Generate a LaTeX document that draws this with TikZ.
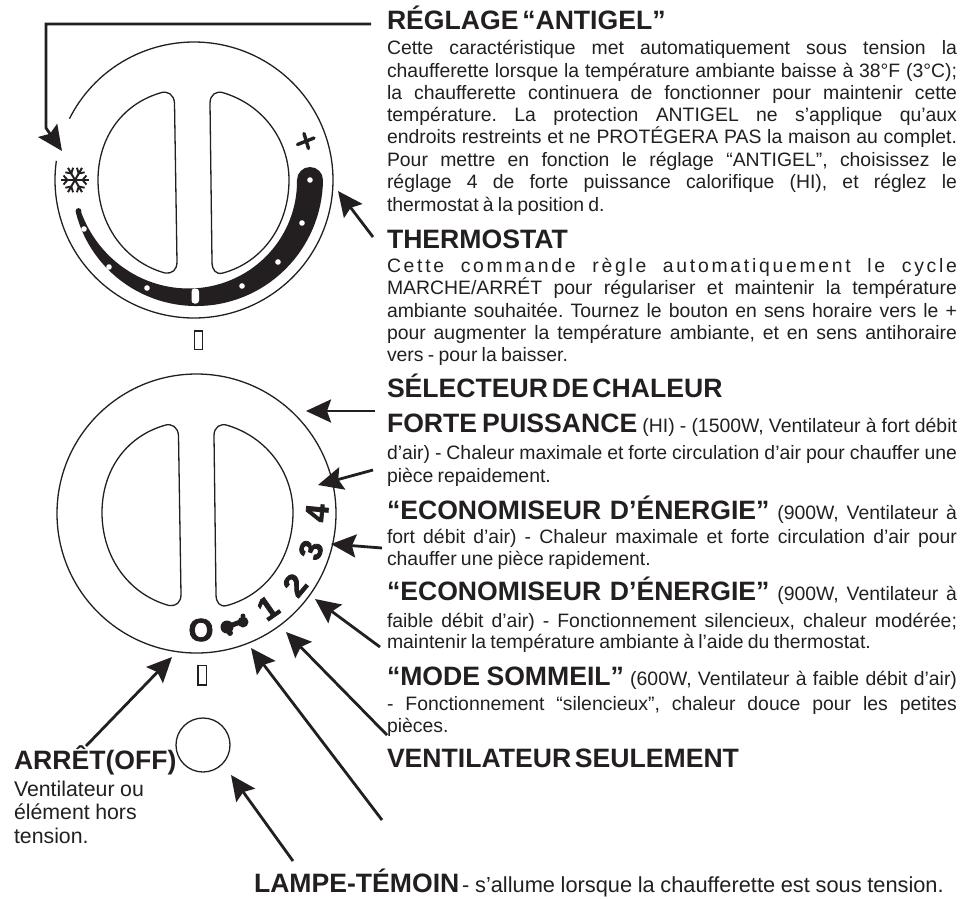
\documentclass[tikz,border=0pt]{standalone}
\usepackage{fontspec}
\setmainfont{Liberation Sans}
\newfontfamily\digitf[FakeBold=2.5]{Liberation Sans Bold}
\usetikzlibrary{arrows.meta}
\definecolor{ink}{HTML}{231F20}
\frenchspacing
\newcommand{\bodyf}{\fontsize{19.4}{22}\selectfont\spaceskip=.22em plus 5em minus .1em\xspaceskip=\spaceskip\relax}
\newcommand{\largef}[1]{\fontsize{#1}{24}\selectfont\spaceskip=.26em plus 5em minus .1em\xspaceskip=\spaceskip\relax}
\newcommand{\headf}{\fontsize{26.6}{28}\selectfont\bfseries\spaceskip=.14em plus 5em minus .05em\xspaceskip=\spaceskip\relax}
\newcommand{\jline}[3]{\node[textline] (#1) at (387,#2) {\bodyf\hbox to 570pt{#3}};}
\newcommand{\pline}[4]{\node[textline] (#1) at (#2,#3) {\bodyf #4};}
\newcommand{\hdline}[4]{\node[textline] (#1) at (#2,#3) {\headf #4};}
\newcommand{\hd}[1]{{\headf #1}}
\newcommand{\dwindows}{%
  \draw[dialline] (174.5,103) -- (177,262) .. controls (177,270) and (172,274) .. (165,273)
    .. controls (125,262) and (98,225) .. (98,180) .. controls (98,140) and (120,105) .. (160,93)
    .. controls (168,90) and (174,95) .. (174.5,103) -- cycle;
  \draw[dialline] (210,103) -- (212,262) .. controls (212,270) and (216,275) .. (223,273)
    .. controls (263,262) and (289,225) .. (289,180) .. controls (289,140) and (263,105) .. (224,93)
    .. controls (216,90) and (210,95) .. (210,103) -- cycle;
}
\tikzset{
  declare function={mm(\t)=116+4*\t*\t; ww(\t)=2.5+10.5*(1-0.4*\t-0.6*\t*\t);},
  textline/.style={anchor=base west,inner sep=0pt,outer sep=0pt,text=ink},
  dialline/.style={draw=ink,line width=1.3pt},
  pointer/.style={draw=ink,line width=2.8pt,-{Stealth[length=25pt,width=23pt,inset=4pt,fill=ink]}},
  digit/.style={inner sep=0pt,text=ink,font=\fontsize{32}{32}\digitf},
  smallmark/.style={draw=ink,line width=1.1pt},
  whitedot/.style={fill=white,draw=none},
}
\begin{document}
\begin{tikzpicture}[x=1pt,y=-1pt]
\useasboundingbox (0,0) rectangle (964,898);
% upper dial
\draw[dialline] plot[domain=153.6:-188,samples=140,smooth] ({194+139*cos(\x)},{180-138*sin(\x)});
\dwindows
\fill[ink] plot[domain=0:1,samples=60] ({194+(mm(\x)+ww(\x))*cos(165*\x)},{180+(mm(\x)+ww(\x))*sin(165*\x)})
  -- plot[domain=1:0,samples=60] ({194+(mm(\x)-ww(\x))*cos(165*\x)},{180+(mm(\x)-ww(\x))*sin(165*\x)}) -- cycle;
\fill[ink] (310,180) circle[radius=13pt];
\fill[ink] (78.5,211) circle[radius=2.9pt];
\foreach \p in {(310,180),(302,223),(278,262),(242,286),(147,288),(109,267),(84,229)}
  \fill[whitedot] \p circle[radius=2.8pt];
\fill[whitedot,rounded corners=3pt] (191.5,288.5) rectangle (199,303.5);
% plus sign
\draw[ink,line width=3.4pt,line cap=round] (297.5,144.5) -- (314,138);
\draw[ink,line width=3.4pt,line cap=round] (304,133.5) -- (308.5,148.5);
% snowflake
\foreach \a in {0,60,120,180,240,300}{
  \begin{scope}[shift={(75,180)},rotate=\a]
    \draw[ink,line width=2pt] (0,0) -- (14,0);
    \draw[ink,line width=1.9pt] (11.5,-4.5) -- (7.5,0) -- (11.5,4.5);
  \end{scope}
}
\draw[smallmark] (194.5,331) rectangle (202.5,349.5);
% lower dial
\node[draw=ink,line width=1.3pt,circle,minimum size=279pt,inner sep=0pt] (dial) at (196.5,513.5) {};
\begin{scope}[shift={(4,332.5)}]
\dwindows
\end{scope}
\node[digit,rotate=85] (d4) at (317,513) {4};
\node[digit,rotate=72] (d3) at (311,550) {3};
\node[digit,rotate=50] (d2) at (295,585) {2};
\node[digit,rotate=35] (d1) at (268,608) {1};
\node[digit] (d0) at (201,630) {O};
% fan glyph
\fill[ink] (227,627) circle[radius=6.5pt];
\fill[ink] (243,622) circle[radius=5.5pt];
\fill[ink] (230,633) circle[radius=3pt];
\fill[ink] (243,616) circle[radius=2.5pt];
\draw[ink,line width=5pt] (227,627) -- (243,621);
\draw[smallmark] (198,665.5) rectangle (206.5,685);
\node[draw=ink,line width=1.3pt,circle,minimum size=54pt,inner sep=0pt] (lamp) at (203,745) {};
% arrow ends
\coordinate (a1s) at (371,24);
\coordinate (a1t) at (62,151);
\coordinate (a2s) at (373,237);
\coordinate (a2t) at (338,191);
\coordinate (a3s) at (375,411);
\coordinate (a3t) at (306,411);
\coordinate (a4s) at (373,470);
\coordinate (a4t) at (318,485);
\coordinate (a5s) at (382,548);
\coordinate (a5t) at (331,544);
\coordinate (a6s) at (380,647);
\coordinate (a6t) at (315,599);
\coordinate (a7s) at (387,735);
\coordinate (a7t) at (286,632);
\coordinate (a8s) at (382,820);
\coordinate (a8t) at (251,648);
\coordinate (a9s) at (86,746);
\coordinate (a9t) at (172,657);
\coordinate (a10s) at (293,861);
\coordinate (a10t) at (231,775);
\draw[pointer] (a1s) -- (46,24) -- (46,128) -- (a1t);
\foreach \n in {2,...,10} \draw[pointer] (a\n s) -- (a\n t);
% right-hand text
\hdline{h1}{387}{29.5}{RÉGLAGE “ANTIGEL”}
\jline{b1}{54}{Cette caractéristique met automatiquement sous tension la}
\jline{b2}{77}{chaufferette lorsque la température ambiante baisse à 38°F (3°C);}
\jline{b3}{99}{la chaufferette continuera de fonctionner pour maintenir cette}
\jline{b4}{121}{température. La protection ANTIGEL ne s’applique qu’aux}
\jline{b5}{143.5}{endroits restreints et ne PROTÉGERA PAS la maison au complet.}
\jline{b6}{166}{Pour mettre en fonction le réglage “ANTIGEL”, choisissez le}
\jline{b7}{188}{réglage 4 de forte puissance calorifique (HI), et réglez le}
\pline{b8}{387}{211}{thermostat à la position d.}
\hdline{h2}{387}{248}{THERMOSTAT}
\jline{c1}{272}{\addfontfeature{LetterSpace=14}Cette commande règle automatiquement le cycle}
\jline{c2}{294.5}{MARCHE/ARRÉT pour régulariser et maintenir la température}
\jline{c3}{317}{ambiante souhaitée. Tournez le bouton en sens horaire vers le +}
\jline{c4}{339}{pour augmenter la température ambiante, et en sens antihoraire}
\pline{c5}{387}{361}{vers - pour la baisser.}
\hdline{h3}{387}{397}{SÉLECTEUR DE CHALEUR}
\jline{e1}{432}{\hd{FORTE PUISSANCE} (HI) - (1500W, Ventilateur à fort débit}
\jline{e2}{459}{d’air) - Chaleur maximale et forte circulation d’air pour chauffer une}
\pline{e3}{387}{482}{pièce repaidement.}
\jline{f1}{519}{\hd{“ECONOMISEUR D’ÉNERGIE”} (900W, Ventilateur à}
\jline{f2}{543}{fort débit d’air) - Chaleur maximale et forte circulation d’air pour}
\pline{f3}{387}{565}{chauffer une pièce rapidement.}
\jline{g1}{600}{\hd{“ECONOMISEUR D’ÉNERGIE”} (900W, Ventilateur à}
\jline{g2}{627}{faible débit d’air) - Fonctionnement silencieux, chaleur modérée;}
\pline{g3}{387}{648}{maintenir la température ambiante à l’aide du thermostat.}
\jline{k1}{685}{\hd{“MODE SOMMEIL”} (600W, Ventilateur à faible débit d’air)}
\jline{k2}{710}{- Fonctionnement “silencieux”, chaleur douce pour les petites}
\pline{k3}{387}{732}{pièces.}
\hdline{h4}{387}{767}{VENTILATEUR SEULEMENT}
% lower-left text
\hdline{h5}{14}{769}{ARRÊT(OFF)}
\node[textline] (v1) at (14,796) {\largef{21.3}Ventilateur ou};
\node[textline] (v2) at (14,819) {\largef{21.3}élément hors};
\node[textline] (v3) at (14,843) {\largef{21.3}tension.};
\node[textline] (lampe) at (254,892.5) {\hd{LAMPE-TÉMOIN} \largef{21.8}- s’allume lorsque la chaufferette est sous tension.};
\end{tikzpicture}
\end{document}
